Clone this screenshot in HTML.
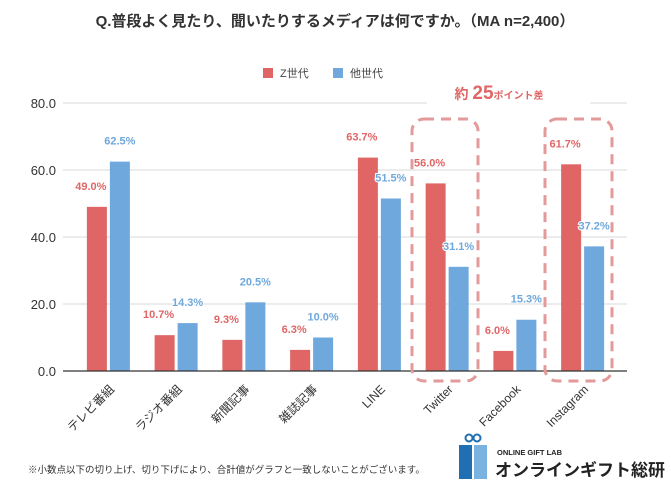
<!DOCTYPE html>
<html><head><meta charset="utf-8"><style>
body{margin:0;background:#fff;width:671px;height:489px;overflow:hidden;font-family:"Liberation Sans","Noto Sans CJK JP",sans-serif;}
</style></head><body>
<svg id="c" width="671" height="489" xmlns="http://www.w3.org/2000/svg" font-family="Liberation Sans, Noto Sans CJK JP, sans-serif">
<text x="335" y="26" text-anchor="middle" font-size="15" font-weight="bold" fill="#333">Q.普段よく見たり、聞いたりするメディアは何ですか。（MA n=2,400）</text>
<g>
<rect x="263" y="68" width="10" height="10" fill="#e06666"/>
<text x="280" y="77" font-size="11" fill="#444">Z世代</text>
<rect x="333" y="68" width="10" height="10" fill="#6fa8dc"/>
<text x="350" y="77" font-size="11" fill="#444">他世代</text>
</g>
<g id="grid"></g><g id="bars"></g>
<g>
<rect x="412" y="119" width="66" height="262" rx="12" fill="none" stroke="#e39a9a" stroke-width="3" stroke-dasharray="10,7"/>
<rect x="545" y="119" width="67" height="262" rx="12" fill="none" stroke="#e39a9a" stroke-width="3" stroke-dasharray="10,7"/>
<text x="499" y="99" text-anchor="middle" fill="#e06666" font-weight="bold"><tspan font-size="14">約 </tspan><tspan font-size="19">25</tspan><tspan font-size="10">ポイント差</tspan></text>
</g>
<text x="28" y="473" font-size="9.5" fill="#333">※小数点以下の切り上げ、切り下げにより、合計値がグラフと一致しないことがございます。</text>
<g>
<rect x="459" y="445" width="13" height="34" fill="#1f6fb2"/>
<rect x="474" y="445" width="13" height="34" fill="#7ab3e0"/>
<circle cx="469" cy="438" r="3.5" fill="none" stroke="#1f6fb2" stroke-width="2"/>
<circle cx="477" cy="438" r="3.5" fill="none" stroke="#1f6fb2" stroke-width="2"/>
<text x="497" y="455" font-size="7.5" font-weight="bold" fill="#222">ONLINE GIFT LAB</text>
<text x="495" y="476" font-size="17" font-weight="bold" fill="#222">オンラインギフト総研</text>
</g>
</svg>
<script>
const categories=["テレビ番組","ラジオ番組","新聞記事","雑誌記事","LINE","Twitter","Facebook","Instagram"];
const zValues=[49.0,10.7,9.3,6.3,63.7,56.0,6.0,61.7];
const otherValues=[62.5,14.3,20.5,10.0,51.5,31.1,15.3,37.2];
const yTicks=[0,20,40,60,80];
const NS="http://www.w3.org/2000/svg";
const y0=371,yTop=103,yMax=80,xL=75,xR=617;
const y=v=>y0-(v/yMax)*(y0-yTop);
const step=(xR-xL)/categories.length;
const cx=i=>xL+step*(i+0.5);
function mk(t,a,p){const e=document.createElementNS(NS,t);for(const k in a)e.setAttribute(k,a[k]);p.appendChild(e);return e;}
const grid=document.getElementById('grid'),bars=document.getElementById('bars');
yTicks.forEach(v=>{
 if(v>0){
  if(v===80){
   const l1=mk('line',{x1:63,x2:427,y1:y(v),y2:y(v),stroke:'#d9d9d9'},grid);
   
   const l2=mk('line',{x1:590,x2:627,y1:y(v),y2:y(v),stroke:'#d9d9d9'},grid);
   
  } else {
   const l=mk('line',{x1:63,x2:627,y1:y(v),y2:y(v),stroke:'#d9d9d9'},grid);
   
  }
 }
 const t=mk('text',{x:56,y:y(v)+5,'text-anchor':'end','font-size':13,fill:'#333'},grid);
 t.textContent=v.toFixed(1);
 
});
categories.forEach((c,i)=>{
 const x=cx(i);
 const r=mk('rect',{x:x-22,y:y(zValues[i]),width:20,height:y0-y(zValues[i]),fill:'#e06666'},bars);
 
 const b=mk('rect',{x:x+1,y:y(otherValues[i]),width:20,height:y0-y(otherValues[i]),fill:'#6fa8dc'},bars);
 
 const lz=mk('text',{x:x-18,y:y(zValues[i])-17,'text-anchor':'middle','font-size':11,'font-weight':'bold',fill:'#e06666',stroke:'#fff','stroke-width':2,'paint-order':'stroke'},bars);
 lz.textContent=zValues[i].toFixed(1)+'%';
 
 const lo=mk('text',{x:x+11,y:y(otherValues[i])-17,'text-anchor':'middle','font-size':11,'font-weight':'bold',fill:'#6fa8dc',stroke:'#fff','stroke-width':2,'paint-order':'stroke'},bars);
 lo.textContent=otherValues[i].toFixed(1)+'%';
 
 const ct=mk('text',{x:x+6,y:390,'text-anchor':'end','font-size':12,fill:'#333',transform:`rotate(-45 ${x+6} 390)`},bars);
 ct.textContent=c;
 
});
const ax=mk('line',{x1:63,x2:627,y1:y0,y2:y0,stroke:'#333','stroke-width':1.2},bars);

</script>
</body></html>
